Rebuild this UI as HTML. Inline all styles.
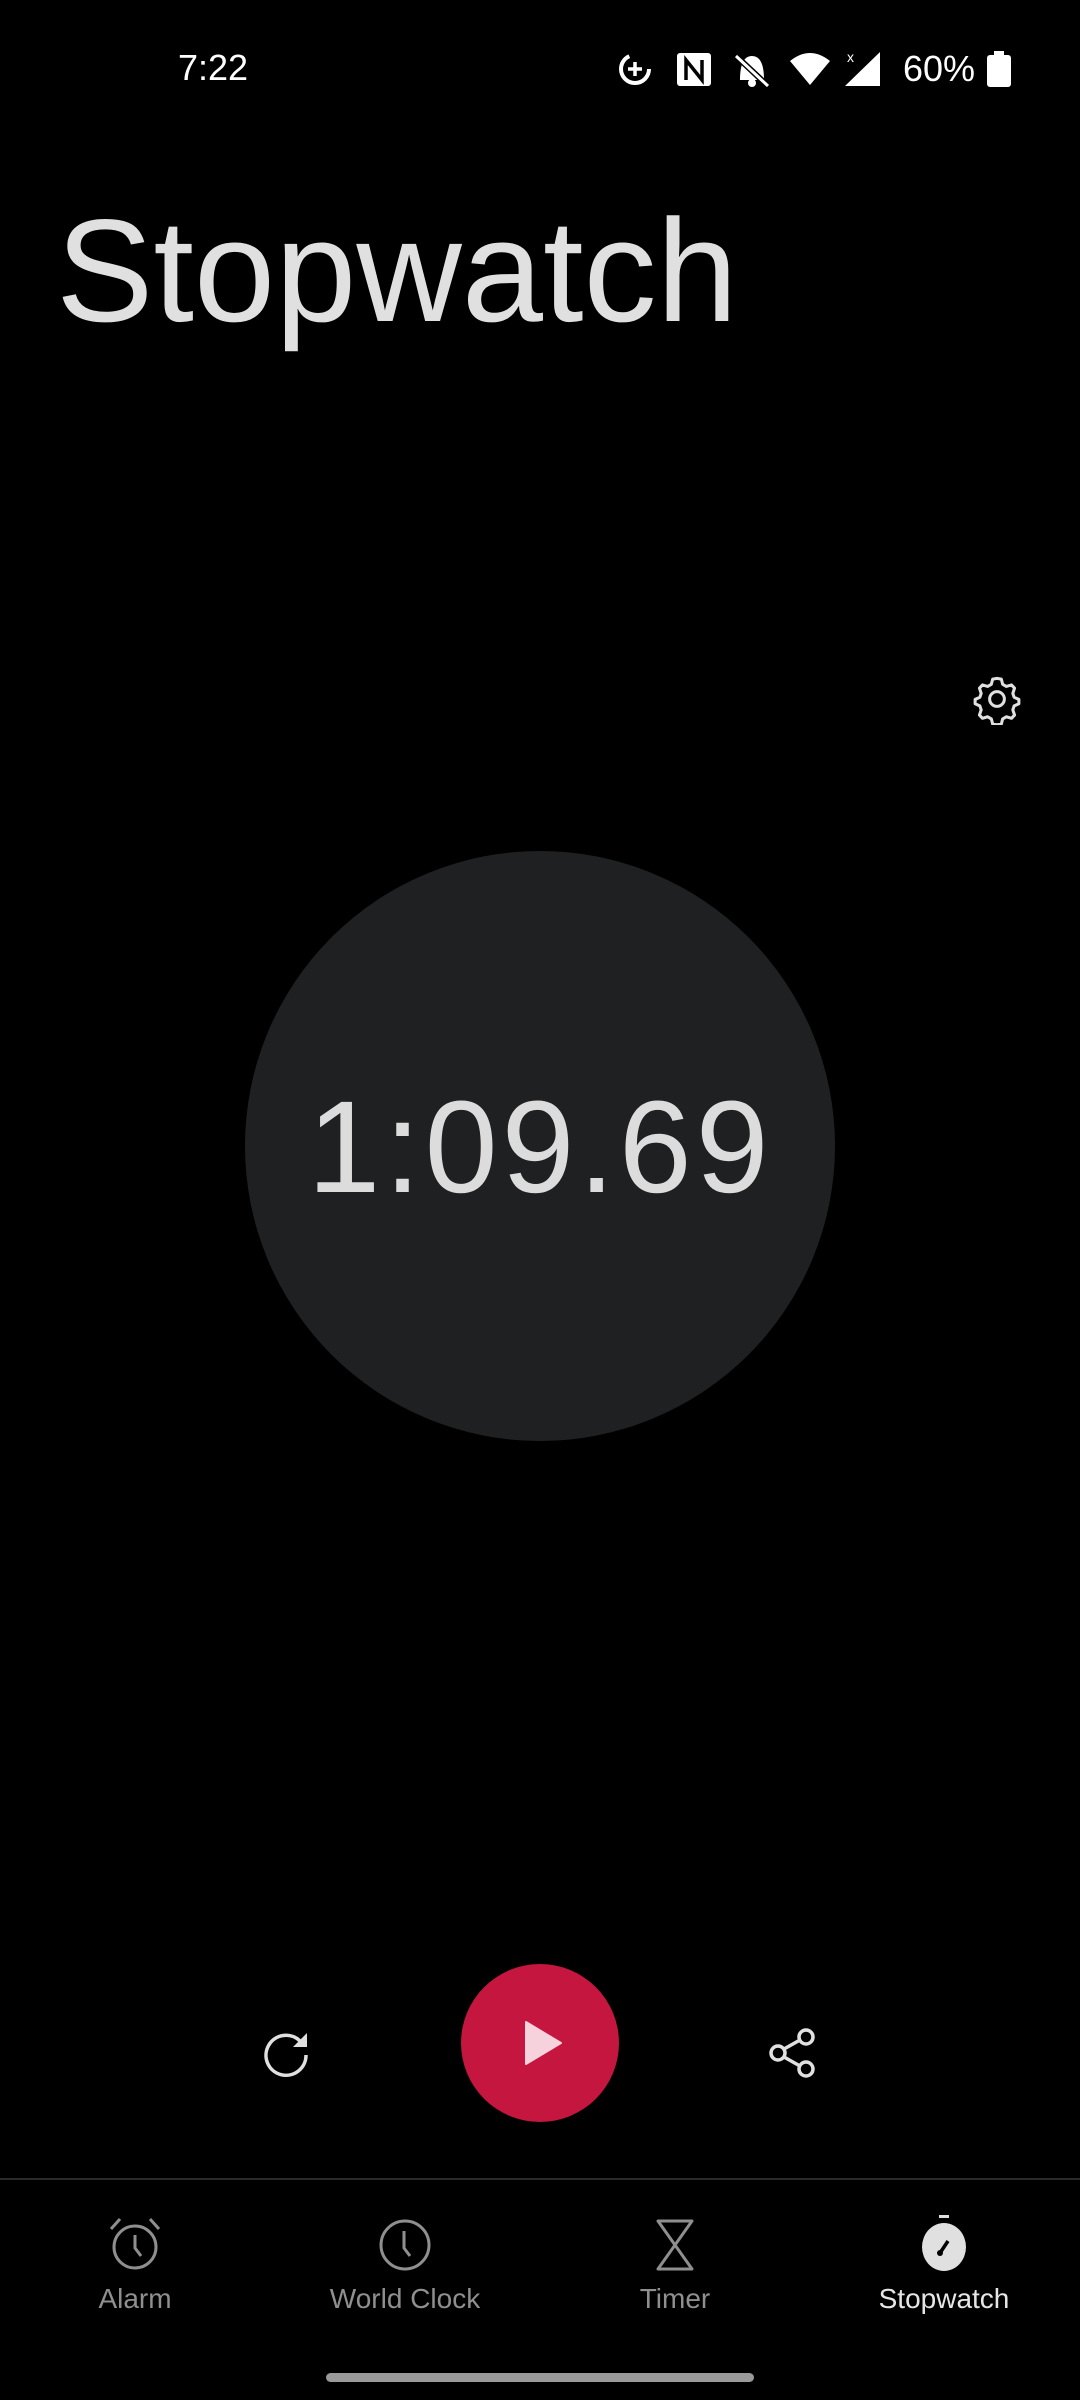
<!DOCTYPE html>
<html><head><meta charset="utf-8"><style>
html,body{margin:0;padding:0;background:#000;width:1080px;height:2400px;overflow:hidden;font-family:"Liberation Sans",sans-serif;}
.abs{position:absolute}
.lbl{position:absolute;top:2283px;font-size:28px;color:#8f8f8f;transform:translateX(-50%);white-space:nowrap}
</style></head><body>
<div class="abs" style="left:178px;top:47px;font-size:36px;color:#fff;">7:22</div>
<svg class="abs" style="left:600px;top:40px" width="440" height="60" viewBox="600 40 440 60">
 <circle cx="635" cy="69" r="14" fill="none" stroke="#fff" stroke-width="4" stroke-dasharray="60 100"/>
 <path d="M635 62v14M628 69h14" stroke="#fff" stroke-width="3.5"/>
 <rect x="677" y="53" width="34" height="33" rx="3" fill="#fff"/>
 <path d="M686 80V60l16 20V60" stroke="#000" stroke-width="3.5" fill="none"/>
 <path d="M740 80c0-14 3-24 12-24s12 10 12 24z" fill="#fff"/><circle cx="752" cy="83" r="4" fill="#fff"/>
 <path d="M734 54l34 32" stroke="#000" stroke-width="6"/><path d="M736 56l32 30" stroke="#fff" stroke-width="3"/>
 <path d="M790 61q20-16 40 0l-20 24z" fill="#fff"/>
 <path d="M845 86L880 52v34z" fill="#fff"/>
 <text x="847" y="62" font-size="14" fill="#fff" font-family="Liberation Sans">x</text>
 <text x="903" y="81" font-size="36" fill="#fff" font-family="Liberation Sans">60%</text>
 <rect x="987" y="55" width="24" height="32" rx="3" fill="#fff"/><rect x="994" y="51" width="10" height="5" fill="#fff"/>
</svg>
<div class="abs" style="left:56px;top:198px;font-size:146px;line-height:146px;color:#e0e0e0;">Stopwatch</div>
<svg class="abs" style="left:971px;top:673px" width="52" height="52" viewBox="0 0 24 24">
 <path d="M12 2.5l2 .3.6 2.4 1.7 1 2.4-.7 1.4 1.5-.8 2.4.6 1.8 2.2 1v2l-2.2 1-.6 1.8.8 2.4-1.4 1.5-2.4-.7-1.7 1-.6 2.4-2 .3-2-.3-.6-2.4-1.7-1-2.4.7-1.4-1.5.8-2.4-.6-1.8-2.2-1v-2l2.2-1 .6-1.8-.8-2.4 1.4-1.5 2.4.7 1.7-1 .6-2.4z" fill="none" stroke="#e0e0e0" stroke-width="1.4" stroke-linejoin="round"/>
 <circle cx="12" cy="12" r="3.4" fill="none" stroke="#e0e0e0" stroke-width="1.4"/>
</svg>
<div class="abs" style="left:245px;top:851px;width:590px;height:590px;border-radius:50%;background:#1f2022;"></div>
<div class="abs" style="left:0;width:1080px;top:1077px;text-align:center;font-size:131px;line-height:140px;color:#dcdcdc;letter-spacing:4px;">1:09.69</div>
<svg class="abs" style="left:256px;top:2023px" width="60" height="60" viewBox="0 0 60 60">
 <path d="M44 18A20 20 0 1 0 50 32" fill="none" stroke="#e0e0e0" stroke-width="3.5"/>
 <path d="M51 10v14H37z" fill="#e0e0e0"/>
</svg>
<div class="abs" style="left:461px;top:1964px;width:158px;height:158px;border-radius:50%;background:#c4163f;"></div>
<svg class="abs" style="left:524px;top:2020px" width="40" height="46"><path d="M2 2L37 23 2 44z" fill="#f6d3dc" stroke="#f6d3dc" stroke-width="2" stroke-linejoin="round"/></svg>
<svg class="abs" style="left:763px;top:2023px" width="60" height="60" viewBox="0 0 60 60">
 <circle cx="43" cy="14" r="7" fill="none" stroke="#e0e0e0" stroke-width="3.5"/>
 <circle cx="15" cy="30" r="7" fill="none" stroke="#e0e0e0" stroke-width="3.5"/>
 <circle cx="43" cy="46" r="7" fill="none" stroke="#e0e0e0" stroke-width="3.5"/>
 <path d="M21 26l16-9M21 34l16 9" stroke="#e0e0e0" stroke-width="3.5"/>
</svg>
<div class="abs" style="left:0;top:2178px;width:1080px;height:2px;background:#2a2a2a;"></div>
<svg class="abs" style="left:105px;top:2215px" width="60" height="60" viewBox="0 0 60 60">
 <circle cx="30" cy="32" r="21" fill="none" stroke="#8f8f8f" stroke-width="3"/>
 <path d="M30 20v13l6 8" fill="none" stroke="#8f8f8f" stroke-width="3"/>
 <path d="M6 14l9-10M54 14l-9-10" stroke="#8f8f8f" stroke-width="3"/>
</svg>
<svg class="abs" style="left:375px;top:2215px" width="60" height="60" viewBox="0 0 60 60">
 <circle cx="30" cy="30" r="24" fill="none" stroke="#8f8f8f" stroke-width="3"/>
 <path d="M29 16v17l6 8" fill="none" stroke="#8f8f8f" stroke-width="3"/>
</svg>
<svg class="abs" style="left:645px;top:2215px" width="60" height="60" viewBox="0 0 60 60">
 <path d="M13 6h34L13 54h34z" fill="none" stroke="#8f8f8f" stroke-width="3" stroke-linejoin="round"/>
</svg>
<svg class="abs" style="left:914px;top:2215px" width="60" height="60" viewBox="0 0 60 60">
 <rect x="25" y="0" width="10" height="3" fill="#e0e0e0"/>
 <ellipse cx="30" cy="32" rx="22" ry="24" fill="#e0e0e0"/>
 <path d="M26 38l8-12" stroke="#000" stroke-width="3.5"/><circle cx="26" cy="38" r="3" fill="#000"/>
</svg>
<div class="lbl" style="left:135px">Alarm</div>
<div class="lbl" style="left:405px">World Clock</div>
<div class="lbl" style="left:675px">Timer</div>
<div class="lbl" style="left:944px;color:#e6e6e6">Stopwatch</div>
<div class="abs" style="left:326px;top:2373px;width:428px;height:9px;border-radius:5px;background:#9a9a9a;"></div>
</body></html>
